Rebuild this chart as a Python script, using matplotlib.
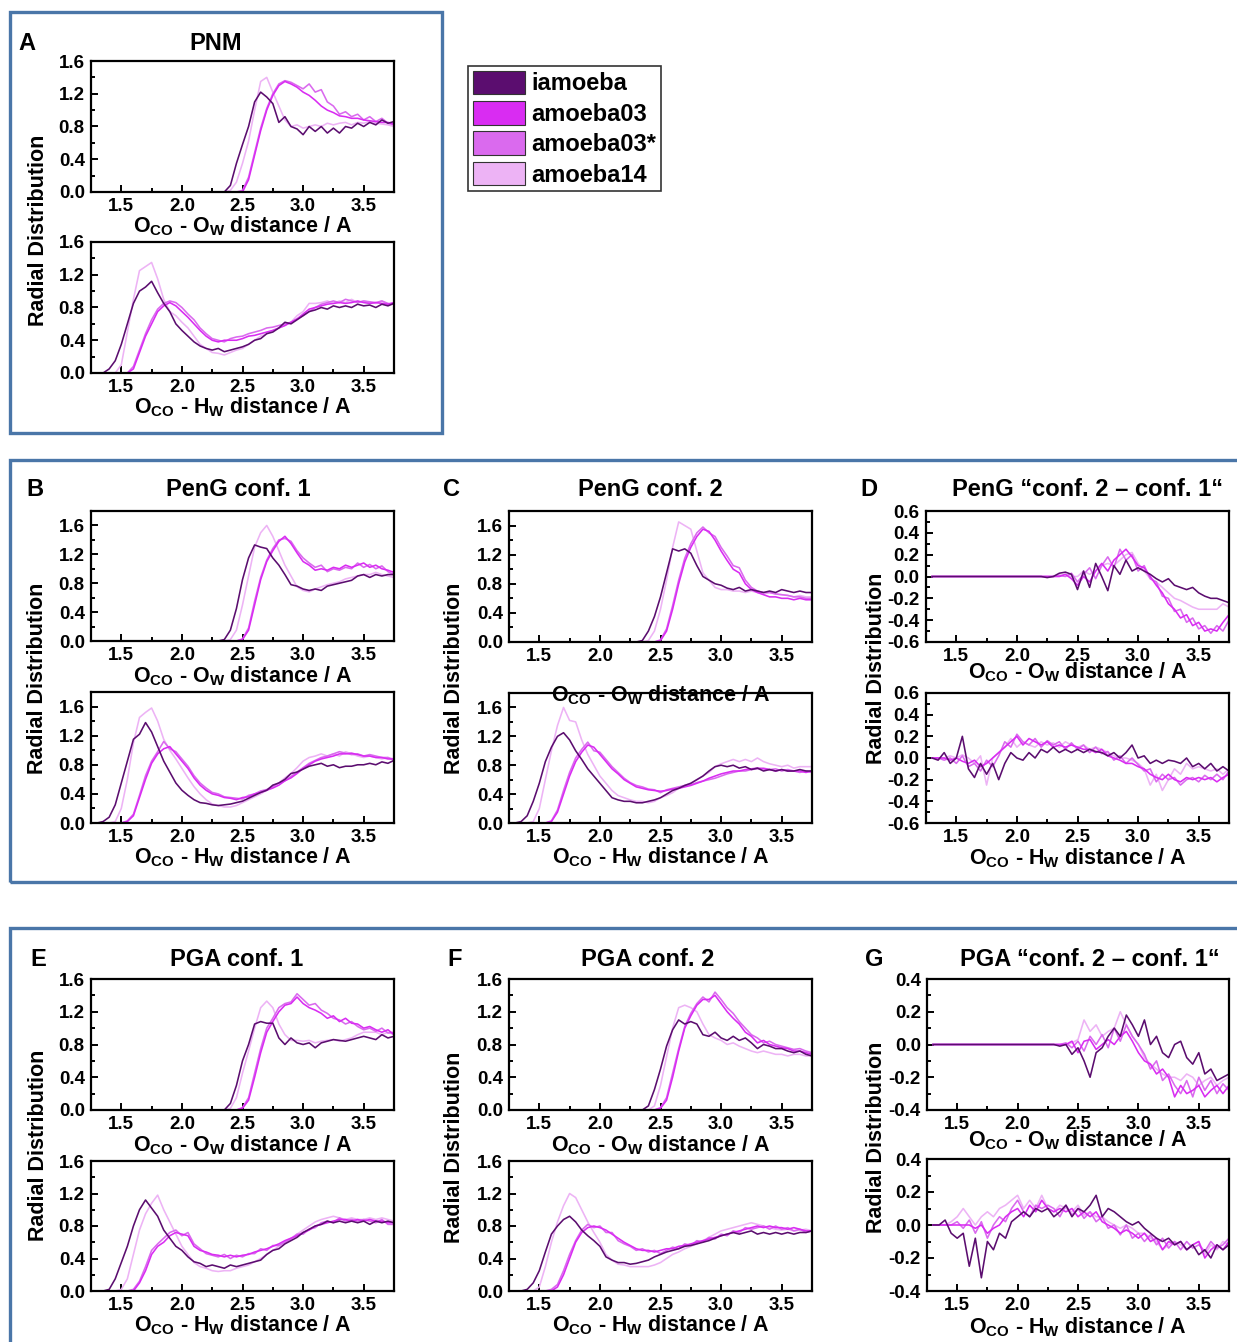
import matplotlib
matplotlib.use('Agg')
import matplotlib.pyplot as plt
from matplotlib.patches import Rectangle, Patch
from matplotlib.ticker import MultipleLocator, FormatStrFormatter

plt.rcParams['font.family'] = ['Liberation Sans', 'DejaVu Sans']
plt.rcParams['font.weight'] = 'bold'
plt.rcParams['axes.labelweight'] = 'bold'
plt.rcParams['mathtext.fontset'] = 'custom'
plt.rcParams['mathtext.rm'] = 'Liberation Sans:bold'
plt.rcParams['mathtext.bf'] = 'Liberation Sans:bold'
plt.rcParams['mathtext.it'] = 'Liberation Sans:bold'
plt.rcParams['mathtext.default'] = 'bf'
plt.rcParams['axes.unicode_minus'] = False

# ---------------- data ----------------
SERIES = ['iamoeba', 'amoeba03', 'amoeba03*', 'amoeba14']
COLORS = ['#5b0d6f', '#d92cf2', '#da6aee', '#edb3f5']

R = [1.30, 1.35, 1.40, 1.45, 1.50, 1.55, 1.60, 1.65, 1.70, 1.75,
     1.80, 1.85, 1.90, 1.95, 2.00, 2.05, 2.10, 2.15, 2.20, 2.25,
     2.30, 2.35, 2.40, 2.45, 2.50, 2.55, 2.60, 2.65, 2.70, 2.75,
     2.80, 2.85, 2.90, 2.95, 3.00, 3.05, 3.10, 3.15, 3.20, 3.25,
     3.30, 3.35, 3.40, 3.45, 3.50, 3.55, 3.60, 3.65, 3.70, 3.75]
R_OO = R[20:]

XTICKS = [1.5, 2.0, 2.5, 3.0, 3.5]

# ---- A: PNM ----
A_OO_iam = [0.00, 0.00, 0.08, 0.35, 0.58, 0.80, 1.10, 1.22, 1.16, 1.08,
            0.85, 0.92, 0.80, 0.77, 0.70, 0.80, 0.74, 0.80, 0.72, 0.78,
            0.72, 0.80, 0.78, 0.84, 0.80, 0.85, 0.82, 0.88, 0.84, 0.86]
A_OO_a03 = [0.00, 0.00, 0.00, 0.00, 0.00, 0.15, 0.45, 0.75, 1.00, 1.18,
            1.30, 1.35, 1.32, 1.28, 1.22, 1.18, 1.12, 1.05, 1.00, 0.97,
            0.93, 0.92, 0.90, 0.90, 0.88, 0.87, 0.86, 0.85, 0.85, 0.83]
A_OO_a03s = [0.00, 0.00, 0.00, 0.00, 0.02, 0.18, 0.48, 0.78, 1.02, 1.20,
             1.32, 1.36, 1.34, 1.30, 1.26, 1.32, 1.22, 1.25, 1.10, 1.05,
             0.95, 0.98, 0.92, 0.95, 0.88, 0.92, 0.86, 0.90, 0.84, 0.82]
A_OO_a14 = [0.00, 0.00, 0.02, 0.12, 0.35, 0.62, 1.00, 1.35, 1.40, 1.22,
            1.05, 0.88, 0.80, 0.82, 0.78, 0.80, 0.82, 0.80, 0.84, 0.82,
            0.84, 0.85, 0.82, 0.85, 0.84, 0.86, 0.84, 0.83, 0.82, 0.80]

A_OH_iam = [0.00, 0.00, 0.05, 0.15, 0.35, 0.60, 0.85, 1.00, 1.05, 1.12,
            0.98, 0.85, 0.75, 0.60, 0.52, 0.45, 0.38, 0.33, 0.30, 0.28,
            0.30, 0.26, 0.28, 0.30, 0.32, 0.35, 0.40, 0.42, 0.48, 0.50,
            0.55, 0.62, 0.60, 0.65, 0.70, 0.75, 0.77, 0.80, 0.78, 0.82,
            0.80, 0.82, 0.80, 0.84, 0.82, 0.83, 0.80, 0.84, 0.82, 0.85]
A_OH_a03 = [0.00, 0.00, 0.00, 0.00, 0.00, 0.00, 0.05, 0.25, 0.45, 0.60,
            0.75, 0.82, 0.86, 0.82, 0.75, 0.68, 0.60, 0.52, 0.45, 0.40,
            0.38, 0.40, 0.40, 0.40, 0.42, 0.45, 0.46, 0.48, 0.50, 0.52,
            0.55, 0.58, 0.62, 0.66, 0.72, 0.78, 0.80, 0.82, 0.84, 0.85,
            0.86, 0.85, 0.86, 0.88, 0.86, 0.85, 0.86, 0.85, 0.84, 0.86]
A_OH_a03s = [0.00, 0.00, 0.00, 0.00, 0.00, 0.00, 0.08, 0.28, 0.48, 0.65,
             0.78, 0.85, 0.88, 0.86, 0.80, 0.72, 0.65, 0.55, 0.48, 0.42,
             0.40, 0.38, 0.42, 0.44, 0.45, 0.48, 0.50, 0.52, 0.55, 0.56,
             0.58, 0.60, 0.62, 0.66, 0.70, 0.75, 0.80, 0.84, 0.86, 0.88,
             0.86, 0.90, 0.88, 0.86, 0.88, 0.87, 0.86, 0.88, 0.85, 0.84]
A_OH_a14 = [0.00, 0.00, 0.00, 0.00, 0.10, 0.50, 0.90, 1.25, 1.30, 1.35,
            1.15, 0.90, 0.75, 0.70, 0.62, 0.55, 0.45, 0.35, 0.30, 0.25,
            0.24, 0.22, 0.25, 0.28, 0.30, 0.35, 0.40, 0.45, 0.48, 0.52,
            0.55, 0.58, 0.62, 0.70, 0.75, 0.85, 0.85, 0.86, 0.88, 0.85,
            0.88, 0.86, 0.90, 0.86, 0.88, 0.86, 0.85, 0.88, 0.84, 0.86]

# ---- B: PenG conf. 1 ----
B_OO_iam = [0.00, 0.02, 0.15, 0.45, 0.85, 1.15, 1.33, 1.30, 1.28, 1.15,
            1.05, 0.92, 0.78, 0.76, 0.72, 0.70, 0.72, 0.70, 0.76, 0.78,
            0.80, 0.82, 0.84, 0.90, 0.92, 0.88, 0.92, 0.90, 0.92, 0.92]
B_OO_a03 = [0.00, 0.00, 0.00, 0.00, 0.02, 0.15, 0.50, 0.85, 1.10, 1.25,
            1.38, 1.45, 1.35, 1.22, 1.10, 1.05, 0.98, 1.00, 0.98, 1.02,
            1.00, 1.05, 1.02, 1.05, 1.08, 1.02, 1.05, 1.00, 0.98, 0.95]
B_OO_a03s = [0.00, 0.00, 0.00, 0.00, 0.03, 0.18, 0.55, 0.88, 1.12, 1.28,
             1.40, 1.42, 1.38, 1.25, 1.15, 1.08, 1.02, 1.05, 0.96, 1.00,
             0.98, 1.02, 1.00, 1.08, 1.02, 1.06, 1.00, 1.04, 0.96, 0.92]
B_OO_a14 = [0.00, 0.00, 0.02, 0.15, 0.50, 0.90, 1.30, 1.50, 1.60, 1.45,
            1.25, 1.05, 0.90, 0.75, 0.70, 0.68, 0.72, 0.75, 0.78, 0.80,
            0.82, 0.86, 0.88, 0.90, 0.92, 0.92, 0.95, 0.92, 0.90, 0.88]

B_OH_iam = [0.00, 0.02, 0.08, 0.25, 0.55, 0.85, 1.15, 1.22, 1.38, 1.25,
            1.05, 0.85, 0.70, 0.55, 0.45, 0.38, 0.32, 0.28, 0.27, 0.25,
            0.24, 0.25, 0.26, 0.28, 0.30, 0.34, 0.38, 0.42, 0.45, 0.52,
            0.55, 0.60, 0.68, 0.70, 0.74, 0.78, 0.80, 0.82, 0.78, 0.80,
            0.76, 0.78, 0.78, 0.80, 0.80, 0.82, 0.80, 0.84, 0.82, 0.86]
B_OH_a03 = [0.00, 0.00, 0.00, 0.00, 0.00, 0.02, 0.10, 0.35, 0.60, 0.82,
            0.95, 1.02, 1.05, 0.95, 0.85, 0.75, 0.62, 0.52, 0.45, 0.40,
            0.38, 0.35, 0.34, 0.32, 0.35, 0.36, 0.40, 0.42, 0.45, 0.48,
            0.52, 0.58, 0.62, 0.68, 0.75, 0.80, 0.85, 0.88, 0.90, 0.92,
            0.95, 0.95, 0.96, 0.94, 0.92, 0.92, 0.90, 0.90, 0.88, 0.88]
B_OH_a03s = [0.00, 0.00, 0.00, 0.00, 0.00, 0.03, 0.12, 0.38, 0.65, 0.85,
             0.98, 1.12, 1.02, 0.98, 0.88, 0.78, 0.65, 0.55, 0.48, 0.42,
             0.40, 0.36, 0.35, 0.34, 0.33, 0.38, 0.40, 0.44, 0.46, 0.50,
             0.55, 0.58, 0.64, 0.70, 0.76, 0.82, 0.86, 0.90, 0.92, 0.95,
             0.98, 0.96, 0.94, 0.95, 0.92, 0.94, 0.92, 0.90, 0.90, 0.86]
B_OH_a14 = [0.00, 0.00, 0.00, 0.02, 0.20, 0.60, 1.10, 1.45, 1.52, 1.58,
            1.40, 1.15, 1.00, 0.88, 0.75, 0.62, 0.50, 0.40, 0.32, 0.26,
            0.24, 0.22, 0.22, 0.24, 0.28, 0.32, 0.36, 0.40, 0.45, 0.50,
            0.55, 0.62, 0.68, 0.76, 0.85, 0.90, 0.92, 0.95, 0.92, 0.95,
            0.92, 0.98, 0.95, 0.92, 0.90, 0.92, 0.90, 0.88, 0.90, 0.88]

# ---- C: PenG conf. 2 ----
C_OO_iam = [0.00, 0.02, 0.15, 0.35, 0.62, 0.95, 1.28, 1.25, 1.28, 1.22,
            1.05, 0.90, 0.85, 0.80, 0.78, 0.74, 0.72, 0.75, 0.70, 0.72,
            0.70, 0.68, 0.70, 0.68, 0.72, 0.70, 0.68, 0.70, 0.68, 0.68]
C_OO_a03 = [0.00, 0.00, 0.00, 0.00, 0.02, 0.15, 0.45, 0.80, 1.10, 1.30,
            1.45, 1.55, 1.52, 1.40, 1.25, 1.12, 1.00, 0.95, 0.80, 0.72,
            0.68, 0.65, 0.62, 0.62, 0.60, 0.60, 0.58, 0.60, 0.58, 0.58]
C_OO_a03s = [0.00, 0.00, 0.00, 0.00, 0.03, 0.18, 0.50, 0.85, 1.15, 1.35,
             1.50, 1.58, 1.50, 1.45, 1.30, 1.18, 1.05, 1.02, 0.85, 0.75,
             0.70, 0.68, 0.68, 0.66, 0.65, 0.64, 0.62, 0.62, 0.60, 0.60]
C_OO_a14 = [0.00, 0.00, 0.02, 0.15, 0.45, 0.85, 1.30, 1.65, 1.60, 1.55,
            1.25, 0.95, 0.85, 0.75, 0.72, 0.72, 0.70, 0.70, 0.68, 0.70,
            0.68, 0.66, 0.68, 0.66, 0.65, 0.64, 0.62, 0.64, 0.62, 0.62]

C_OH_iam = [0.00, 0.02, 0.10, 0.30, 0.55, 0.85, 1.05, 1.20, 1.25, 1.15,
            1.00, 0.88, 0.75, 0.65, 0.55, 0.45, 0.35, 0.32, 0.30, 0.30,
            0.28, 0.28, 0.30, 0.32, 0.35, 0.40, 0.45, 0.48, 0.52, 0.55,
            0.60, 0.65, 0.72, 0.78, 0.80, 0.78, 0.80, 0.76, 0.78, 0.74,
            0.76, 0.72, 0.74, 0.72, 0.74, 0.72, 0.72, 0.74, 0.72, 0.72]
C_OH_a03 = [0.00, 0.00, 0.00, 0.00, 0.00, 0.00, 0.02, 0.15, 0.40, 0.65,
            0.85, 0.98, 1.08, 1.05, 0.95, 0.85, 0.75, 0.68, 0.60, 0.55,
            0.50, 0.48, 0.46, 0.45, 0.44, 0.45, 0.47, 0.48, 0.50, 0.52,
            0.55, 0.58, 0.62, 0.65, 0.68, 0.70, 0.72, 0.72, 0.74, 0.75,
            0.76, 0.75, 0.74, 0.72, 0.74, 0.72, 0.72, 0.72, 0.70, 0.72]
C_OH_a03s = [0.00, 0.00, 0.00, 0.00, 0.00, 0.00, 0.03, 0.18, 0.45, 0.70,
             0.90, 1.02, 1.12, 1.00, 0.98, 0.88, 0.78, 0.70, 0.62, 0.56,
             0.52, 0.50, 0.47, 0.46, 0.42, 0.46, 0.48, 0.50, 0.52, 0.53,
             0.56, 0.58, 0.60, 0.62, 0.65, 0.68, 0.70, 0.72, 0.72, 0.74,
             0.75, 0.76, 0.74, 0.75, 0.72, 0.74, 0.72, 0.70, 0.72, 0.70]
C_OH_a14 = [0.00, 0.00, 0.00, 0.02, 0.20, 0.60, 1.00, 1.35, 1.60, 1.42,
            1.40, 1.15, 0.95, 0.80, 0.65, 0.55, 0.45, 0.38, 0.35, 0.32,
            0.30, 0.30, 0.28, 0.30, 0.35, 0.38, 0.42, 0.48, 0.52, 0.55,
            0.60, 0.65, 0.70, 0.78, 0.82, 0.85, 0.88, 0.85, 0.88, 0.85,
            0.90, 0.85, 0.82, 0.80, 0.78, 0.80, 0.76, 0.78, 0.78, 0.78]

# ---- D: PenG "conf. 2 - conf. 1" ----
D_OO_iam = [0.00, 0.00, 0.00, 0.00, 0.00, 0.00, 0.00, 0.00, 0.00, 0.00,
            0.00, 0.00, 0.00, 0.00, 0.00, 0.00, 0.00, 0.00, 0.00, -0.01,
            0.00, 0.03, 0.04, 0.02, -0.12, 0.05, -0.10, 0.12, 0.00, -0.13,
            0.10, 0.02, 0.15, 0.05, 0.08, 0.05, 0.02, -0.02, -0.05, -0.02,
            -0.08, -0.10, -0.12, -0.10, -0.15, -0.18, -0.20, -0.20, -0.22, -0.24]
D_OO_a03 = [0.00, 0.00, 0.00, 0.00, 0.00, 0.00, 0.00, 0.00, 0.00, 0.00,
            0.00, 0.00, 0.00, 0.00, 0.00, 0.00, 0.00, 0.00, 0.00, 0.00,
            0.00, 0.00, 0.02, -0.02, -0.08, 0.00, -0.05, 0.05, 0.12, 0.05,
            0.15, 0.20, 0.25, 0.18, 0.10, 0.08, 0.00, -0.08, -0.15, -0.25,
            -0.30, -0.38, -0.35, -0.45, -0.42, -0.50, -0.48, -0.50, -0.42, -0.35]
D_OO_a03s = [0.00, 0.00, 0.00, 0.00, 0.00, 0.00, 0.00, 0.00, 0.00, 0.00,
             0.00, 0.00, 0.00, 0.00, 0.00, 0.00, 0.00, 0.00, 0.00, 0.00,
             0.00, 0.01, 0.00, 0.03, -0.05, 0.02, 0.08, -0.02, 0.10, 0.18,
             0.08, 0.25, 0.15, 0.20, 0.05, 0.10, -0.02, -0.05, -0.18, -0.20,
             -0.32, -0.30, -0.42, -0.38, -0.48, -0.45, -0.52, -0.45, -0.50, -0.40]
D_OO_a14 = [0.00, 0.00, 0.00, 0.00, 0.00, 0.00, 0.00, 0.00, 0.00, 0.00,
            0.00, 0.00, 0.00, 0.00, 0.00, 0.00, 0.00, 0.00, 0.00, 0.00,
            0.00, 0.01, 0.02, 0.00, 0.00, 0.05, 0.02, 0.05, 0.10, 0.12,
            0.10, 0.15, 0.20, 0.22, 0.12, 0.05, -0.02, -0.05, -0.10, -0.15,
            -0.20, -0.22, -0.25, -0.28, -0.30, -0.30, -0.30, -0.30, -0.25, -0.28]

D_OH_iam = [0.00, -0.02, 0.05, -0.05, 0.00, 0.20, -0.10, -0.18, -0.05, -0.15,
            -0.05, -0.20, -0.05, 0.05, 0.00, -0.02, 0.05, 0.00, 0.08, 0.05,
            0.10, 0.05, 0.08, 0.05, 0.08, 0.05, 0.08, 0.06, 0.05, 0.02,
            0.05, 0.00, 0.05, 0.12, 0.00, 0.02, -0.05, -0.02, -0.05, -0.02,
            -0.03, -0.05, 0.00, -0.08, -0.05, -0.10, -0.05, -0.12, -0.08, -0.12]
D_OH_a03 = [0.00, 0.00, 0.00, -0.02, 0.00, -0.03, -0.05, -0.02, -0.08, -0.05,
            0.00, 0.05, 0.10, 0.15, 0.20, 0.12, 0.18, 0.15, 0.12, 0.15,
            0.10, 0.12, 0.10, 0.12, 0.10, 0.08, 0.08, 0.05, 0.08, 0.02,
            0.00, -0.02, -0.05, -0.05, -0.08, -0.10, -0.15, -0.18, -0.20, -0.15,
            -0.20, -0.22, -0.18, -0.20, -0.18, -0.20, -0.18, -0.22, -0.18, -0.15]
D_OH_a03s = [0.00, 0.00, -0.02, 0.00, -0.05, 0.02, -0.08, -0.05, -0.12, -0.02,
             -0.08, 0.02, 0.15, 0.10, 0.22, 0.15, 0.12, 0.18, 0.10, 0.16,
             0.12, 0.15, 0.08, 0.14, 0.08, 0.12, 0.05, 0.10, 0.04, 0.06,
             -0.02, 0.02, -0.05, 0.00, -0.06, -0.12, -0.10, -0.22, -0.15, -0.20,
             -0.18, -0.25, -0.20, -0.18, -0.22, -0.16, -0.20, -0.15, -0.20, -0.12]
D_OH_a14 = [0.00, 0.00, 0.00, 0.02, 0.00, 0.03, 0.00, -0.05, 0.02, -0.25,
            0.00, 0.05, 0.10, 0.18, 0.10, 0.15, 0.12, 0.10, 0.15, 0.12,
            0.14, 0.10, 0.15, 0.12, 0.10, 0.12, 0.08, 0.10, 0.08, 0.05,
            0.02, 0.00, 0.00, -0.02, -0.05, -0.10, -0.25, -0.15, -0.30, -0.20,
            -0.10, -0.15, -0.05, -0.10, -0.08, -0.10, -0.12, -0.10, -0.15, -0.10]

# ---- E: PGA conf. 1 ----
E_OO_iam = [0.00, 0.00, 0.08, 0.30, 0.60, 0.80, 1.05, 1.08, 1.06, 1.06,
            0.88, 0.80, 0.88, 0.82, 0.80, 0.82, 0.76, 0.82, 0.84, 0.86,
            0.85, 0.84, 0.86, 0.88, 0.90, 0.88, 0.86, 0.92, 0.88, 0.90]
E_OO_a03 = [0.00, 0.00, 0.00, 0.00, 0.02, 0.12, 0.40, 0.70, 0.95, 1.08,
            1.20, 1.28, 1.30, 1.38, 1.30, 1.25, 1.22, 1.18, 1.12, 1.15,
            1.08, 1.12, 1.06, 1.05, 1.00, 1.02, 0.98, 0.95, 0.98, 0.92]
E_OO_a03s = [0.00, 0.00, 0.00, 0.00, 0.03, 0.15, 0.45, 0.75, 1.00, 1.12,
             1.25, 1.30, 1.32, 1.42, 1.35, 1.28, 1.30, 1.22, 1.18, 1.12,
             1.10, 1.05, 1.08, 1.02, 0.98, 1.00, 0.96, 1.00, 0.94, 0.95]
E_OO_a14 = [0.00, 0.00, 0.02, 0.15, 0.45, 0.72, 1.00, 1.25, 1.33, 1.25,
            1.05, 0.92, 0.85, 0.85, 0.84, 0.85, 0.82, 0.84, 0.85, 0.86,
            0.84, 0.86, 0.88, 0.92, 0.95, 0.95, 0.95, 0.92, 0.95, 0.92]

E_OH_iam = [0.00, 0.00, 0.02, 0.15, 0.35, 0.55, 0.80, 1.00, 1.12, 1.02,
            0.92, 0.75, 0.65, 0.55, 0.50, 0.42, 0.36, 0.34, 0.30, 0.32,
            0.30, 0.28, 0.32, 0.30, 0.32, 0.34, 0.36, 0.38, 0.45, 0.50,
            0.52, 0.58, 0.62, 0.66, 0.72, 0.76, 0.80, 0.82, 0.86, 0.84,
            0.86, 0.84, 0.86, 0.84, 0.86, 0.82, 0.86, 0.84, 0.86, 0.84]
E_OH_a03 = [0.00, 0.00, 0.00, 0.00, 0.00, 0.00, 0.00, 0.10, 0.25, 0.45,
            0.55, 0.60, 0.68, 0.72, 0.70, 0.68, 0.55, 0.50, 0.48, 0.45,
            0.44, 0.42, 0.44, 0.42, 0.44, 0.45, 0.48, 0.50, 0.52, 0.55,
            0.58, 0.62, 0.65, 0.68, 0.72, 0.75, 0.80, 0.82, 0.84, 0.86,
            0.88, 0.88, 0.86, 0.88, 0.86, 0.88, 0.86, 0.86, 0.84, 0.84]
E_OH_a03s = [0.00, 0.00, 0.00, 0.00, 0.00, 0.00, 0.02, 0.12, 0.30, 0.50,
             0.58, 0.65, 0.72, 0.75, 0.68, 0.72, 0.58, 0.52, 0.46, 0.44,
             0.42, 0.45, 0.40, 0.44, 0.42, 0.46, 0.46, 0.52, 0.50, 0.56,
             0.56, 0.60, 0.64, 0.70, 0.70, 0.76, 0.78, 0.84, 0.86, 0.84,
             0.90, 0.86, 0.88, 0.86, 0.88, 0.86, 0.84, 0.88, 0.82, 0.82]
E_OH_a14 = [0.00, 0.00, 0.00, 0.00, 0.02, 0.15, 0.45, 0.75, 0.95, 1.08,
            1.18, 1.00, 0.85, 0.70, 0.55, 0.45, 0.35, 0.30, 0.28, 0.25,
            0.24, 0.25, 0.25, 0.28, 0.30, 0.32, 0.36, 0.40, 0.45, 0.50,
            0.55, 0.60, 0.65, 0.70, 0.75, 0.80, 0.85, 0.88, 0.90, 0.92,
            0.90, 0.88, 0.90, 0.88, 0.88, 0.90, 0.88, 0.90, 0.88, 0.86]

# ---- F: PGA conf. 2 ----
F_OO_iam = [0.00, 0.00, 0.05, 0.25, 0.50, 0.78, 0.98, 1.10, 1.05, 1.08,
            1.05, 0.92, 0.90, 0.95, 0.88, 0.85, 0.90, 0.85, 0.88, 0.82,
            0.75, 0.80, 0.78, 0.75, 0.75, 0.72, 0.70, 0.72, 0.68, 0.66]
F_OO_a03 = [0.00, 0.00, 0.00, 0.00, 0.02, 0.12, 0.40, 0.72, 1.00, 1.15,
            1.28, 1.35, 1.35, 1.40, 1.30, 1.20, 1.12, 1.05, 0.95, 0.90,
            0.82, 0.85, 0.80, 0.78, 0.76, 0.75, 0.72, 0.72, 0.70, 0.68]
F_OO_a03s = [0.00, 0.00, 0.00, 0.00, 0.03, 0.15, 0.45, 0.75, 1.02, 1.18,
             1.30, 1.38, 1.32, 1.44, 1.35, 1.25, 1.18, 1.08, 1.00, 0.92,
             0.88, 0.82, 0.84, 0.80, 0.78, 0.76, 0.74, 0.75, 0.72, 0.70]
F_OO_a14 = [0.00, 0.00, 0.00, 0.05, 0.30, 0.65, 1.00, 1.25, 1.28, 1.25,
            1.20, 1.05, 0.92, 0.88, 0.85, 0.80, 0.82, 0.78, 0.75, 0.72,
            0.70, 0.72, 0.70, 0.68, 0.68, 0.66, 0.68, 0.68, 0.66, 0.66]

F_OH_iam = [0.00, 0.00, 0.02, 0.10, 0.25, 0.48, 0.70, 0.80, 0.88, 0.92,
            0.85, 0.75, 0.68, 0.62, 0.55, 0.42, 0.38, 0.35, 0.35, 0.33,
            0.34, 0.36, 0.38, 0.42, 0.45, 0.48, 0.50, 0.52, 0.55, 0.56,
            0.58, 0.60, 0.62, 0.65, 0.68, 0.70, 0.72, 0.70, 0.72, 0.74,
            0.70, 0.72, 0.70, 0.72, 0.70, 0.72, 0.70, 0.72, 0.72, 0.74]
F_OH_a03 = [0.00, 0.00, 0.00, 0.00, 0.00, 0.00, 0.00, 0.05, 0.20, 0.40,
            0.60, 0.72, 0.78, 0.80, 0.78, 0.75, 0.70, 0.65, 0.60, 0.56,
            0.52, 0.50, 0.50, 0.48, 0.50, 0.52, 0.52, 0.55, 0.56, 0.58,
            0.60, 0.62, 0.64, 0.66, 0.68, 0.70, 0.72, 0.74, 0.76, 0.78,
            0.80, 0.78, 0.80, 0.78, 0.78, 0.76, 0.78, 0.76, 0.74, 0.74]
F_OH_a03s = [0.00, 0.00, 0.00, 0.00, 0.00, 0.00, 0.02, 0.08, 0.25, 0.45,
             0.62, 0.75, 0.82, 0.78, 0.80, 0.72, 0.72, 0.62, 0.58, 0.55,
             0.50, 0.52, 0.48, 0.50, 0.46, 0.50, 0.54, 0.52, 0.58, 0.56,
             0.62, 0.60, 0.66, 0.64, 0.70, 0.68, 0.74, 0.72, 0.78, 0.76,
             0.78, 0.80, 0.76, 0.80, 0.76, 0.78, 0.74, 0.76, 0.72, 0.74]
F_OH_a14 = [0.00, 0.00, 0.00, 0.00, 0.05, 0.30, 0.60, 0.85, 1.05, 1.20,
            1.15, 1.00, 0.85, 0.72, 0.60, 0.45, 0.38, 0.33, 0.32, 0.30,
            0.30, 0.30, 0.30, 0.32, 0.35, 0.40, 0.45, 0.48, 0.52, 0.55,
            0.58, 0.62, 0.66, 0.70, 0.74, 0.76, 0.78, 0.80, 0.82, 0.84,
            0.82, 0.80, 0.78, 0.76, 0.75, 0.76, 0.74, 0.75, 0.76, 0.74]

# ---- G: PGA "conf. 2 - conf. 1" ----
G_OO_iam = [0.00, 0.00, 0.00, 0.00, 0.00, 0.00, 0.00, 0.00, 0.00, 0.00,
            0.00, 0.00, 0.00, 0.00, 0.00, 0.00, 0.00, 0.00, 0.00, 0.00,
            0.00, -0.01, 0.00, -0.06, -0.02, -0.10, -0.20, -0.05, -0.02, 0.05,
            0.10, 0.05, 0.18, 0.12, 0.05, 0.15, 0.00, 0.05, -0.05, -0.08,
            0.00, 0.02, -0.08, -0.12, -0.05, -0.18, -0.15, -0.22, -0.20, -0.18]
G_OO_a03 = [0.00, 0.00, 0.00, 0.00, 0.00, 0.00, 0.00, 0.00, 0.00, 0.00,
            0.00, 0.00, 0.00, 0.00, 0.00, 0.00, 0.00, 0.00, 0.00, 0.00,
            0.00, 0.00, 0.00, 0.02, -0.05, 0.02, 0.03, -0.03, 0.00, 0.03,
            0.00, 0.05, 0.08, 0.02, -0.05, -0.10, -0.12, -0.18, -0.15, -0.20,
            -0.32, -0.25, -0.30, -0.28, -0.25, -0.32, -0.28, -0.25, -0.30, -0.25]
G_OO_a03s = [0.00, 0.00, 0.00, 0.00, 0.00, 0.00, 0.00, 0.00, 0.00, 0.00,
             0.00, 0.00, 0.00, 0.00, 0.00, 0.00, 0.00, 0.00, 0.00, 0.00,
             0.00, 0.00, 0.01, -0.02, 0.02, -0.04, 0.05, 0.00, 0.06, -0.02,
             0.10, 0.02, 0.12, 0.05, 0.00, -0.06, -0.15, -0.10, -0.22, -0.18,
             -0.25, -0.30, -0.22, -0.32, -0.20, -0.28, -0.22, -0.30, -0.24, -0.28]
G_OO_a14 = [0.00, 0.00, 0.00, 0.00, 0.00, 0.00, 0.00, 0.00, 0.00, 0.00,
            0.00, 0.00, 0.00, 0.00, 0.00, 0.00, 0.00, 0.00, 0.00, 0.00,
            0.00, 0.00, 0.00, 0.01, 0.03, 0.15, 0.08, 0.12, 0.05, 0.08,
            0.10, 0.20, 0.12, 0.05, 0.00, -0.08, -0.12, -0.15, -0.18, -0.20,
            -0.20, -0.22, -0.18, -0.20, -0.25, -0.22, -0.20, -0.25, -0.22, -0.20]

G_OH_iam = [0.00, 0.00, 0.03, -0.05, -0.08, -0.05, -0.25, -0.08, -0.32, -0.10,
            -0.15, -0.05, -0.08, 0.02, 0.05, 0.08, 0.05, 0.10, 0.08, 0.10,
            0.05, 0.08, 0.12, 0.05, 0.10, 0.08, 0.12, 0.18, 0.05, 0.10,
            0.08, 0.05, 0.02, 0.00, 0.02, -0.02, -0.05, -0.08, -0.10, -0.08,
            -0.12, -0.10, -0.15, -0.12, -0.18, -0.15, -0.20, -0.12, -0.15, -0.12]
G_OH_a03 = [0.00, 0.00, 0.00, 0.00, 0.00, 0.00, 0.00, -0.02, 0.00, -0.05,
            -0.02, 0.00, 0.05, 0.08, 0.10, 0.05, 0.12, 0.08, 0.15, 0.10,
            0.08, 0.10, 0.08, 0.10, 0.05, 0.08, 0.05, 0.08, 0.02, 0.00,
            -0.02, -0.05, -0.03, -0.05, -0.08, -0.05, -0.10, -0.08, -0.15, -0.10,
            -0.12, -0.10, -0.15, -0.12, -0.10, -0.20, -0.15, -0.12, -0.15, -0.10]
G_OH_a03s = [0.00, 0.00, 0.00, 0.00, 0.02, -0.02, 0.03, -0.05, 0.02, -0.08,
             0.00, 0.05, 0.02, 0.10, 0.15, 0.08, 0.05, 0.12, 0.10, 0.12,
             0.10, 0.05, 0.12, 0.06, 0.10, 0.04, 0.08, 0.02, 0.05, -0.02,
             0.00, -0.06, 0.00, -0.08, -0.05, -0.10, -0.06, -0.12, -0.08, -0.14,
             -0.10, -0.15, -0.10, -0.14, -0.12, -0.16, -0.10, -0.14, -0.12, -0.08]
G_OH_a14 = [0.00, 0.00, 0.00, 0.02, 0.05, 0.10, 0.05, 0.00, 0.05, 0.08,
            0.05, 0.10, 0.12, 0.15, 0.18, 0.10, 0.15, 0.10, 0.18, 0.10,
            0.08, 0.12, 0.10, 0.08, 0.12, 0.06, 0.08, 0.05, 0.05, 0.02,
            0.00, -0.02, 0.00, -0.02, -0.05, -0.05, -0.08, -0.10, -0.15, -0.12,
            -0.10, -0.12, -0.15, -0.12, -0.10, -0.18, -0.12, -0.15, -0.10, -0.12]

PANEL_LETTERS = ['A', 'B', 'C', 'D', 'E', 'F', 'G']
PANEL_TITLES = ['PNM', 'PenG conf. 1', 'PenG conf. 2', 'PenG \u201cconf. 2 \u2013 conf. 1\u201c',
                'PGA conf. 1', 'PGA conf. 2', 'PGA \u201cconf. 2 \u2013 conf. 1\u201c']
XLABEL_OO = r'O$_{CO}$ - O$_{W}$ distance / A'
XLABEL_OH = r'O$_{CO}$ - H$_{W}$ distance / A'
YLABEL = 'Radial Distribution'

# ---------------- figure ----------------
W, H = 1237, 1342
fig = plt.figure(figsize=(W / 100, H / 100), dpi=100)
fig.patch.set_facecolor('white')


def rect(l, t, r, b):
    return [l / W, 1 - b / H, (r - l) / W, (b - t) / H]


def ftext(x, y, s, **kw):
    fig.text(x / W, 1 - y / H, s, **kw)


def make_axes(box, xs, curves, ylim, major, minor, xlabel, lab_off):
    ax = fig.add_axes(rect(*box))
    ax.set_facecolor('none')
    for i in [3, 2, 1, 0]:
        ax.plot(xs, curves[i], color=COLORS[i], lw=1.15, zorder=2)
    ax.set_xlim(1.25, 3.75)
    ax.set_ylim(*ylim)
    ax.set_xticks(XTICKS)
    ax.xaxis.set_minor_locator(MultipleLocator(0.25))
    ax.yaxis.set_major_locator(MultipleLocator(major))
    ax.yaxis.set_minor_locator(MultipleLocator(minor))
    ax.xaxis.set_major_formatter(FormatStrFormatter('%.1f'))
    ax.yaxis.set_major_formatter(FormatStrFormatter('%.1f'))
    ax.tick_params(which='both', direction='in', top=False, right=False,
                   labelsize=13.5, width=1.4, pad=4.5)
    ax.tick_params(which='major', length=5)
    ax.tick_params(which='minor', length=3)
    for s in ax.spines.values():
        s.set_linewidth(1.6)
    ax.set_xlabel(xlabel, fontsize=15.5, va='center')
    h = box[3] - box[1]
    ax.xaxis.set_label_coords(0.5, -lab_off / h)
    return ax


# A
make_axes((91, 61, 394, 192), R_OO, [A_OO_iam, A_OO_a03, A_OO_a03s, A_OO_a14],
          (0, 1.6), 0.4, 0.2, XLABEL_OO, 34)
make_axes((91, 242, 394, 373), R, [A_OH_iam, A_OH_a03, A_OH_a03s, A_OH_a14],
          (0, 1.6), 0.4, 0.2, XLABEL_OH, 34)
# B
make_axes((91, 511, 394, 641), R_OO, [B_OO_iam, B_OO_a03, B_OO_a03s, B_OO_a14],
          (0, 1.8), 0.4, 0.2, XLABEL_OO, 35)
make_axes((91, 692, 394, 823), R, [B_OH_iam, B_OH_a03, B_OH_a03s, B_OH_a14],
          (0, 1.8), 0.4, 0.2, XLABEL_OH, 34)
# C
make_axes((509, 511, 812, 642), R_OO, [C_OO_iam, C_OO_a03, C_OO_a03s, C_OO_a14],
          (0, 1.8), 0.4, 0.2, XLABEL_OO, 53)
make_axes((509, 693, 812, 823), R, [C_OH_iam, C_OH_a03, C_OH_a03s, C_OH_a14],
          (0, 1.8), 0.4, 0.2, XLABEL_OH, 34)
# D
make_axes((926, 511, 1229, 642), R, [D_OO_iam, D_OO_a03, D_OO_a03s, D_OO_a14],
          (-0.6, 0.6), 0.2, 0.1, XLABEL_OO, 30)
make_axes((926, 693, 1229, 823), R, [D_OH_iam, D_OH_a03, D_OH_a03s, D_OH_a14],
          (-0.6, 0.6), 0.2, 0.1, XLABEL_OH, 35)
# E
make_axes((91, 979, 394, 1110), R_OO, [E_OO_iam, E_OO_a03, E_OO_a03s, E_OO_a14],
          (0, 1.6), 0.4, 0.2, XLABEL_OO, 35)
make_axes((91, 1161, 394, 1291), R, [E_OH_iam, E_OH_a03, E_OH_a03s, E_OH_a14],
          (0, 1.6), 0.4, 0.2, XLABEL_OH, 34)
# F
make_axes((509, 979, 812, 1110), R_OO, [F_OO_iam, F_OO_a03, F_OO_a03s, F_OO_a14],
          (0, 1.6), 0.4, 0.2, XLABEL_OO, 35)
make_axes((509, 1161, 812, 1291), R, [F_OH_iam, F_OH_a03, F_OH_a03s, F_OH_a14],
          (0, 1.6), 0.4, 0.2, XLABEL_OH, 34)
# G
make_axes((927, 979, 1229, 1110), R, [G_OO_iam, G_OO_a03, G_OO_a03s, G_OO_a14],
          (-0.4, 0.4), 0.2, 0.1, XLABEL_OO, 30)
make_axes((927, 1159, 1229, 1291), R, [G_OH_iam, G_OH_a03, G_OH_a03s, G_OH_a14],
          (-0.4, 0.4), 0.2, 0.1, XLABEL_OH, 36)

# panel letters and titles
letter_pos = [(27, 43), (35, 490), (452, 490), (869, 490), (38, 960), (455, 960), (874, 960)]
title_pos = [(216, 43), (238, 490), (650, 490), (1087, 490), (237, 960), (648, 960), (1090, 960)]
for L, (x, y) in zip(PANEL_LETTERS, letter_pos):
    ftext(x, y, L, fontsize=17, ha='center', va='center')
for T, (x, y) in zip(PANEL_TITLES, title_pos):
    ftext(x, y, T, fontsize=17, ha='center', va='center')

# y labels
ylabel_pos = [(39, 230), (38, 678), (455, 678), (876, 668), (39, 1145), (455, 1147), (876, 1137)]
for (x, y) in ylabel_pos:
    ftext(x, y, YLABEL, fontsize=15.5, rotation=90, ha='center', va='center')

# frames
for (l, t, r, b) in [(10, 12, 442, 433), (10, 460, 1245, 882), (10, 928, 1245, 1350)]:
    fig.add_artist(Rectangle((l / W, 1 - b / H), (r - l) / W, (b - t) / H,
                             transform=fig.transFigure, fill=False,
                             edgecolor='#4a76a8', lw=2.4, clip_on=False))

# legend
handles = [Patch(facecolor=c, edgecolor='#333333', lw=0.8) for c in COLORS]
leg = fig.legend(handles, SERIES, loc='upper left', bbox_to_anchor=(468 / W, 1 - 66 / H),
                 fontsize=17, frameon=True, fancybox=False, edgecolor='black',
                 handlelength=2.2, handleheight=1.15, handletextpad=0.3,
                 labelspacing=0.24, borderpad=0.2, borderaxespad=0)
leg.get_frame().set_linewidth(1.2)

fig.savefig('out.png', dpi=100)
